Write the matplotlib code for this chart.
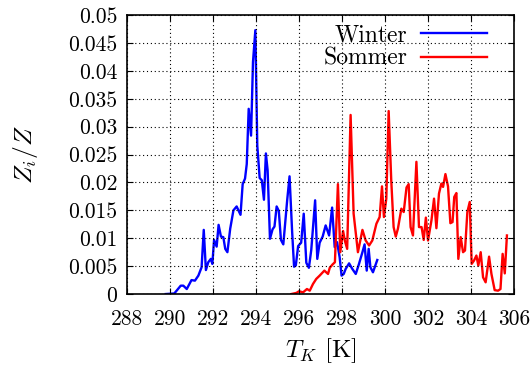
import matplotlib
matplotlib.use('Agg')
import matplotlib.pyplot as plt

plt.rcParams['font.family'] = 'cmr10'
plt.rcParams['mathtext.fontset'] = 'cm'
plt.rcParams['axes.formatter.use_mathtext'] = True

# Winter temperature distribution
winter_T = [289.8, 290.2, 290.5, 290.62, 290.78, 291.0, 291.16, 291.32, 291.47, 291.57,
            291.67, 291.78, 291.9, 291.97, 292.05, 292.17, 292.26, 292.37, 292.48, 292.57,
            292.67, 292.8, 292.95, 293.1, 293.28, 293.38, 293.49, 293.57, 293.66, 293.77,
            293.86, 293.97, 294.06, 294.17, 294.27, 294.37, 294.46, 294.54, 294.65, 294.77,
            294.86, 294.96, 295.06, 295.16, 295.27, 295.45, 295.56, 295.68, 295.77, 295.85,
            295.96, 296.1, 296.22, 296.34, 296.46, 296.57, 296.75, 296.85, 296.96, 297.1,
            297.24, 297.4, 297.54, 297.66, 297.77, 297.89, 297.98, 298.08, 298.17, 298.33,
            298.48, 298.64, 298.79, 298.95, 299.05, 299.15, 299.24, 299.32, 299.44, 299.64]
winter_Z = [0.0, 0.0001, 0.0015, 0.0015, 0.0009, 0.0025, 0.0024, 0.0033, 0.0048, 0.0115,
            0.0043, 0.0057, 0.0063, 0.0054, 0.0097, 0.0085, 0.0124, 0.0103, 0.0102, 0.0081,
            0.0075, 0.0117, 0.015, 0.0157, 0.0142, 0.0197, 0.0207, 0.0233, 0.0332, 0.0284,
            0.0416, 0.0473, 0.0266, 0.0208, 0.0204, 0.0169, 0.0252, 0.0222, 0.0099, 0.0116,
            0.0121, 0.0157, 0.0149, 0.0097, 0.0089, 0.0168, 0.0211, 0.0112, 0.0049, 0.0051,
            0.0086, 0.0092, 0.0144, 0.0056, 0.0047, 0.0079, 0.0168, 0.0063, 0.0092, 0.0103,
            0.0123, 0.0105, 0.0155, 0.0084, 0.0093, 0.0066, 0.0033, 0.0036, 0.0045, 0.0055,
            0.0045, 0.0036, 0.0054, 0.0075, 0.0089, 0.0042, 0.0081, 0.0048, 0.0039, 0.0061]

# Summer temperature distribution
sommer_T = [295.64, 295.88, 296.0, 296.19, 296.37, 296.5, 296.65, 296.8, 296.96, 297.18,
            297.35, 297.43, 297.56, 297.67, 297.81, 297.92, 298.05, 298.13, 298.24, 298.4,
            298.54, 298.74, 298.95, 299.1, 299.26, 299.41, 299.6, 299.75, 299.86, 299.95,
            300.06, 300.17, 300.29, 300.4, 300.5, 300.6, 300.76, 300.87, 301.0, 301.1,
            301.19, 301.3, 301.46, 301.58, 301.7, 301.8, 301.9, 302.0, 302.16, 302.28,
            302.39, 302.51, 302.62, 302.7, 302.81, 302.93, 303.04, 303.14, 303.22, 303.32,
            303.41, 303.52, 303.63, 303.72, 303.83, 303.94, 304.03, 304.14, 304.25, 304.34,
            304.45, 304.56, 304.68, 304.84, 304.95, 305.1, 305.26, 305.37, 305.47, 305.57,
            305.67]
sommer_Z = [0.0, 0.0002, 0.0005, 0.0003, 0.0009, 0.0006, 0.0018, 0.0027, 0.0033, 0.0042,
            0.0036, 0.0047, 0.0053, 0.0057, 0.0197, 0.0075, 0.0113, 0.0096, 0.0081, 0.0321,
            0.0144, 0.0075, 0.0115, 0.0096, 0.0087, 0.0096, 0.0126, 0.0138, 0.0193, 0.0138,
            0.0171, 0.0328, 0.0204, 0.012, 0.0103, 0.0117, 0.0153, 0.0147, 0.0191, 0.0197,
            0.012, 0.0105, 0.0237, 0.012, 0.012, 0.0097, 0.0137, 0.0096, 0.0132, 0.0171,
            0.0118, 0.018, 0.0198, 0.0192, 0.0215, 0.0193, 0.0127, 0.0129, 0.0174, 0.0181,
            0.0063, 0.0102, 0.0075, 0.0078, 0.0147, 0.0165, 0.0054, 0.006, 0.0069, 0.0051,
            0.0075, 0.003, 0.0021, 0.0067, 0.0036, 0.0007, 0.0006, 0.0009, 0.0072, 0.0037,
            0.0105]

xticks = [288, 290, 292, 294, 296, 298, 300, 302, 304, 306]
yticks = [0, 0.005, 0.01, 0.015, 0.02, 0.025, 0.03, 0.035, 0.04, 0.045, 0.05]
ylabels = ['0', '0.005', '0.01', '0.015', '0.02', '0.025', '0.03', '0.035', '0.04', '0.045', '0.05']

fig = plt.figure(figsize=(5.32, 3.68), dpi=100)
ax = fig.add_axes([0.2387, 0.201, 0.7275, 0.758])

ax.plot(winter_T, winter_Z, color='#0000ff', lw=1.7, label='Winter')
ax.plot(sommer_T, sommer_Z, color='#ff0000', lw=1.7, label='Sommer')

ax.set_xlim(288, 306)
ax.set_ylim(0, 0.05)
ax.set_xticks(xticks)
ax.set_xticklabels([str(t) for t in xticks])
ax.set_yticks(yticks)
ax.set_yticklabels(ylabels)
ax.tick_params(direction='in', top=True, right=True, length=4, width=0.8,
               labelsize=15.5, colors='black')
ax.tick_params(axis='x', pad=11)
ax.tick_params(axis='y', pad=7)
ax.grid(True, color='black', linestyle=(0, (1, 2.5)), lw=0.8)
ax.set_axisbelow(False)
for s in ax.spines.values():
    s.set_linewidth(1.2)

ax.set_xlabel(r'$T_K$ [K]', fontsize=18, labelpad=5)
ax.set_ylabel(r'$Z_i/Z$', fontsize=18.5, labelpad=20)

leg = ax.legend(loc='upper right', bbox_to_anchor=(0.975, 1.03), frameon=False,
                markerfirst=False, fontsize=17, handlelength=2.8, handletextpad=0.55,
                labelspacing=0.05, borderpad=0.25)

fig.savefig('out.png', dpi=100)
